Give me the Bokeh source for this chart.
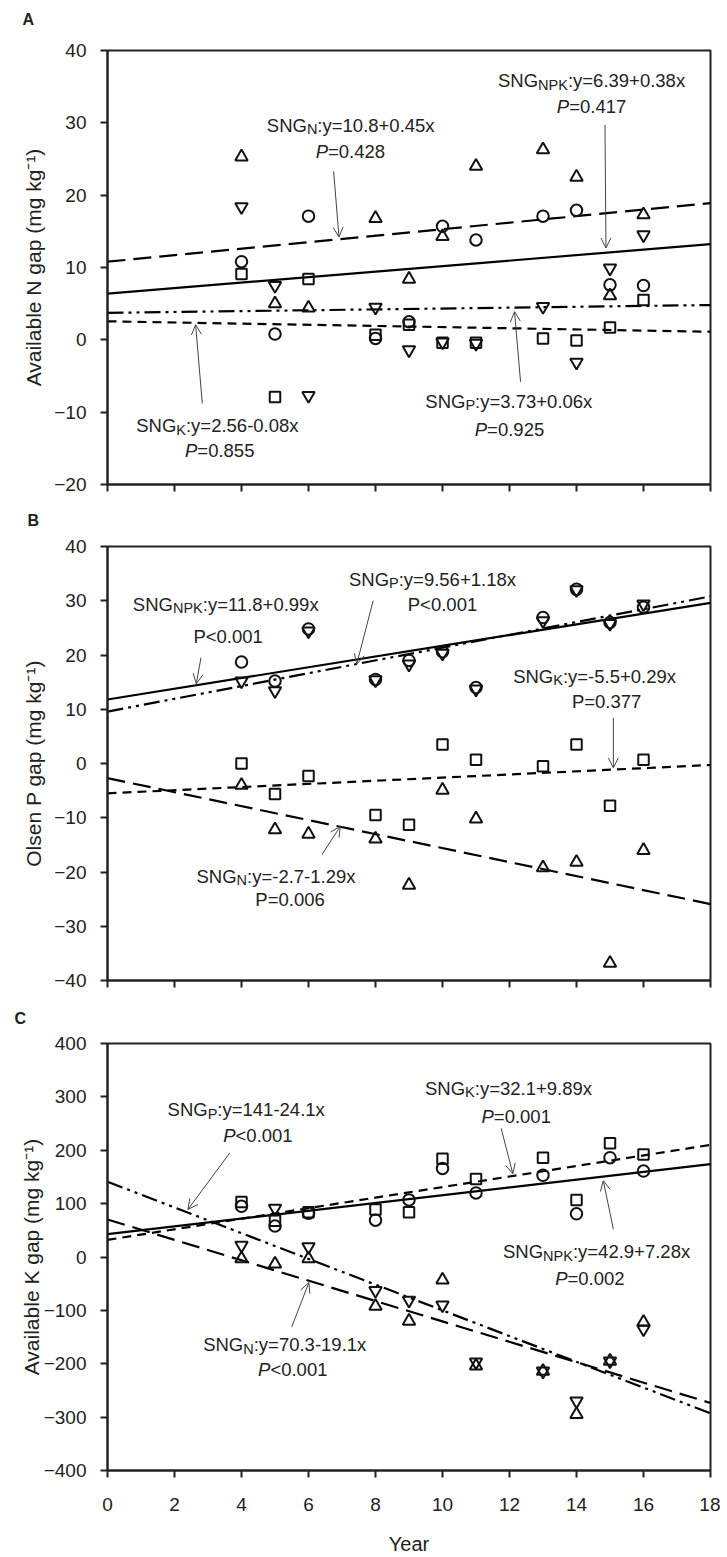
import numpy as np
from bokeh.plotting import figure
from bokeh.layouts import column
from bokeh.models import Arrow, OpenHead, Title, FixedTicker, Range1d
from bokeh.embed import file_html
from bokeh.resources import INLINE
from bokeh.core.properties import value

FONT = "Liberation Sans"

# ---------------- data ----------------
years = [4, 5, 6, 8, 9, 10, 11, 13, 14, 15, 16]

# Panel A: Available N gap (mg kg-1)
a_npk = [10.8, 0.8, 17.1, 0.2, 2.5, 15.7, 13.8, 17.1, 17.9, 7.6, 7.5]
a_n = [25.3, 5.0, 4.4, 16.8, 8.4, 14.3, 24.0, 26.3, 22.5, 6.1, 17.3]
a_p = [18.4, 7.5, -7.7, 4.5, -1.4, -0.3, -0.5, 4.6, -3.1, 9.9, 14.5]
a_k = [9.1, -7.9, 8.4, 0.7, 2.1, -0.4, -0.4, 0.2, -0.1, 1.7, 5.5]

# Panel B: Olsen P gap (mg kg-1)
b_npk = [18.7, 15.2, 24.8, 15.5, 19.0, 20.6, 14.0, 26.9, 32.1, 26.0, 28.8]
b_n = [-4.0, -12.2, -13.0, -13.9, -22.4, -4.9, -10.2, -19.2, -18.2, -36.8, -16.0]
b_p = [15.2, 13.4, 24.4, 15.4, 18.3, 20.3, 13.7, 26.3, 32.0, 25.8, 29.4]
b_k = [0.0, -5.6, -2.3, -9.5, -11.3, 3.5, 0.7, -0.5, 3.5, -7.8, 0.7]

# Panel C: Available K gap (mg kg-1)
c_npk = [95, 58, 82, 69, 107, 166, 120, 153, 81, 186, 161]
c_n = [-3, -13, -3, -92, -120, -43, -204, -214, -295, -195, -122]
c_p = [22, 91, 19, -63, -81, -90, -197, -214, -270, -195, -135]
c_k = [103, 68, 84, 89, 84, 184, 146, 186, 107, 213, 192]

# regression fits (intercept, slope)
a_fit = {"N": (10.8, 0.45), "NPK": (6.39, 0.38), "P": (3.73, 0.06), "K": (2.56, -0.08)}
b_fit = {"N": (-2.7, -1.29), "NPK": (11.8, 0.99), "P": (9.56, 1.18), "K": (-5.5, 0.29)}
c_fit = {"N": (70.3, -19.1), "NPK": (42.9, 7.28), "P": (141, -24.1), "K": (32.1, 9.89)}

a_ylabel = "Available N gap (mg kg\u207b\u00b9)"
b_ylabel = "Olsen P gap (mg kg\u207b\u00b9)"
c_ylabel = "Available K gap (mg kg\u207b\u00b9)"
x_ticks = list(range(0, 19, 2))

# ---------------- styles ----------------
DASH = {"NPK": "solid", "N": "18 8", "P": "16 5 3 5 3 5", "K": "9 6"}
MARK = {"NPK": ("circle", 11.5), "N": ("triangle", 12.5), "P": ("inverted_triangle", 12.5), "K": ("square", 10.5)}

W = {'S': 667, 'N': 722, 'G': 778, 'P': 667, 'K': 667, ':': 278, 'y': 500, '=': 584,
     '+': 584, '-': 333, 'x': 500, '.': 278, '<': 584}


def tw(s, size):
    return sum(W.get(c, 556) for c in s) * size / 1000.0


MAIN = 18.5
SUB = 14.5


def put_parts(p, x, y, parts):
    total = sum(tw(t, s) for t, s, _, _ in parts)
    off = -total / 2.0
    for t, s, dy, style in parts:
        p.text(x=[x], y=[y], text=[t], x_offset=off, y_offset=dy,
               text_font=value(FONT), text_font_size=f"{s}px", text_font_style=style,
               text_baseline="middle", text_align="left", text_color="#222222")
        off += tw(t, s)


def eq_label(p, x1, y1, sub, rest, x2, y2, ptext, italic):
    put_parts(p, x1, y1, [("SNG", MAIN, 0, "normal"), (sub, SUB, 4, "normal"), (rest, MAIN, 0, "normal")])
    if italic:
        put_parts(p, x2, y2, [("P", MAIN, 0, "italic"), (ptext, MAIN, 0, "normal")])
    else:
        put_parts(p, x2, y2, [("P" + ptext, MAIN, 0, "normal")])


def arrow(p, xs, ys, xe, ye):
    p.add_layout(Arrow(end=OpenHead(size=10, line_color="#444444", line_width=1),
                       x_start=xs, y_start=ys, x_end=xe, y_end=ye,
                       line_color="#444444", line_width=1))


def make_fig(height, top, bottom, yr, yticks, ylabel, label_std, show_x, letter, letter_off, letter_std):
    p = figure(width=720, height=height, output_backend="svg", toolbar_location=None,
               x_range=Range1d(0, 18), y_range=Range1d(*yr),
               min_border_left=107, min_border_right=10, min_border_top=top, min_border_bottom=bottom)
    # the trailing newline lifts the panel letter away from the frame
    p.title = Title(text=letter + "\n", align="left", offset=letter_off, standoff=letter_std,
                    text_font=FONT, text_font_size="16px", text_font_style="bold",
                    text_color="#222222", text_line_height=1.0)
    p.grid.visible = False
    p.outline_line_color = "#222222"
    p.outline_line_width = 2
    p.xaxis.ticker = FixedTicker(ticks=x_ticks)
    p.yaxis.ticker = FixedTicker(ticks=yticks)
    for ax in (p.xaxis[0], p.yaxis[0]):
        ax.axis_line_width = 2
        ax.axis_line_color = "#222222"
        ax.major_tick_out = 7
        ax.major_tick_in = 0
        ax.major_tick_line_width = 2
        ax.major_tick_line_color = "#222222"
        ax.minor_tick_out = 0
        ax.minor_tick_in = 0
        ax.major_label_text_font = FONT
        ax.major_label_text_font_size = "19px"
        ax.major_label_text_color = "#222222"
    p.yaxis.major_label_standoff = 14
    p.yaxis.axis_label = ylabel
    p.yaxis.axis_label_text_font = FONT
    p.yaxis.axis_label_text_font_size = "21px"
    p.yaxis.axis_label_text_font_style = "normal"
    p.yaxis.axis_label_text_color = "#222222"
    p.yaxis.axis_label_standoff = label_std
    if show_x:
        p.xaxis.major_label_standoff = 20
        p.xaxis.axis_label = "Year"
        p.xaxis.axis_label_text_font = FONT
        p.xaxis.axis_label_text_font_size = "20px"
        p.xaxis.axis_label_text_font_style = "normal"
        p.xaxis.axis_label_text_color = "#222222"
        p.xaxis.axis_label_standoff = 19
    else:
        # upper panels: tick marks only, no tick labels
        p.xaxis.major_label_overrides = {t: "" for t in x_ticks}
        p.xaxis.major_label_text_font_size = "0px"
        p.xaxis.major_label_standoff = 0
    return p


def draw_series(p, fits, series):
    xs = np.array([0.0, 18.0])
    for key in ["N", "NPK", "P", "K"]:
        a, b = fits[key]
        p.line(xs, a + b * xs, line_color="black", line_width=2.2, line_dash=DASH[key])
    for key in ["NPK", "N", "P", "K"]:
        m, s = MARK[key]
        p.scatter(years, series[key], marker=m, size=s, fill_alpha=0,
                  line_color="#111111", line_width=2)


# ---------------- Panel A ----------------
pa = make_fig(504, 50, 20, (-20, 40), list(range(-20, 41, 10)), a_ylabel, 6, False, "A", -85, 12)
draw_series(pa, a_fit, {"NPK": a_npk, "N": a_n, "P": a_p, "K": a_k})
eq_label(pa, 7.26, 29.7, "N", ":y=10.8+0.45x", 7.25, 26.0, "=0.428", True)
eq_label(pa, 14.45, 35.8, "NPK", ":y=6.39+0.38x", 14.45, 32.2, "=0.417", True)
eq_label(pa, 3.28, -11.9, "K", ":y=2.56-0.08x", 3.35, -15.3, "=0.855", True)
eq_label(pa, 11.98, -8.5, "P", ":y=3.73+0.06x", 12.0, -12.4, "=0.925", True)
arrow(pa, 6.75, 23.3, 6.91, 14.2)
arrow(pa, 14.85, 29.7, 14.88, 12.7)
arrow(pa, 2.83, -8.8, 2.63, 2.1)
arrow(pa, 12.33, -5.8, 12.15, 3.9)

# ---------------- Panel B ----------------
pb = make_fig(496, 42, 20, (-40, 40), list(range(-40, 41, 10)), b_ylabel, 6, False, "B", -80, 1)
draw_series(pb, b_fit, {"NPK": b_npk, "N": b_n, "P": b_p, "K": b_k})
eq_label(pb, 9.7, 34.0, "P", ":y=9.56+1.18x", 10.0, 29.4, "<0.001", False)
eq_label(pb, 3.55, 29.4, "NPK", ":y=11.8+0.99x", 3.6, 23.5, "<0.001", False)
eq_label(pb, 14.54, 16.1, "K", ":y=-5.5+0.29x", 14.9, 11.5, "=0.377", False)
eq_label(pb, 5.03, -20.8, "N", ":y=-2.7-1.29x", 5.45, -25.1, "=0.006", False)
arrow(pb, 7.93, 30.0, 7.44, 18.3)
arrow(pb, 2.79, 19.5, 2.65, 14.7)
arrow(pb, 15.1, 8.4, 15.1, -0.8)
arrow(pb, 6.4, -16.8, 6.95, -11.6)

# ---------------- Panel C ----------------
pc = make_fig(557, 43, 80, (-400, 400), list(range(-400, 401, 100)), c_ylabel, -2, True, "C", -93, 0)
draw_series(pc, c_fit, {"NPK": c_npk, "N": c_n, "P": c_p, "K": c_k})
eq_label(pc, 11.97, 316, "K", ":y=32.1+9.89x", 12.2, 264, "=0.001", True)
eq_label(pc, 4.14, 276, "P", ":y=141-24.1x", 4.49, 228, "<0.001", True)
eq_label(pc, 14.6, 10, "NPK", ":y=42.9+7.28x", 14.4, -40, "=0.002", True)
eq_label(pc, 5.29, -164, "N", ":y=70.3-19.1x", 5.53, -210, "<0.001", True)
arrow(pc, 11.75, 241, 12.1, 156)
arrow(pc, 3.65, 195, 2.4, 89)
arrow(pc, 15.1, 52, 14.8, 143)
arrow(pc, 5.5, -131, 6.01, -48)

layout = column(pa, pb, pc, spacing=0)
open("out.html", "w").write(file_html(layout, INLINE))
